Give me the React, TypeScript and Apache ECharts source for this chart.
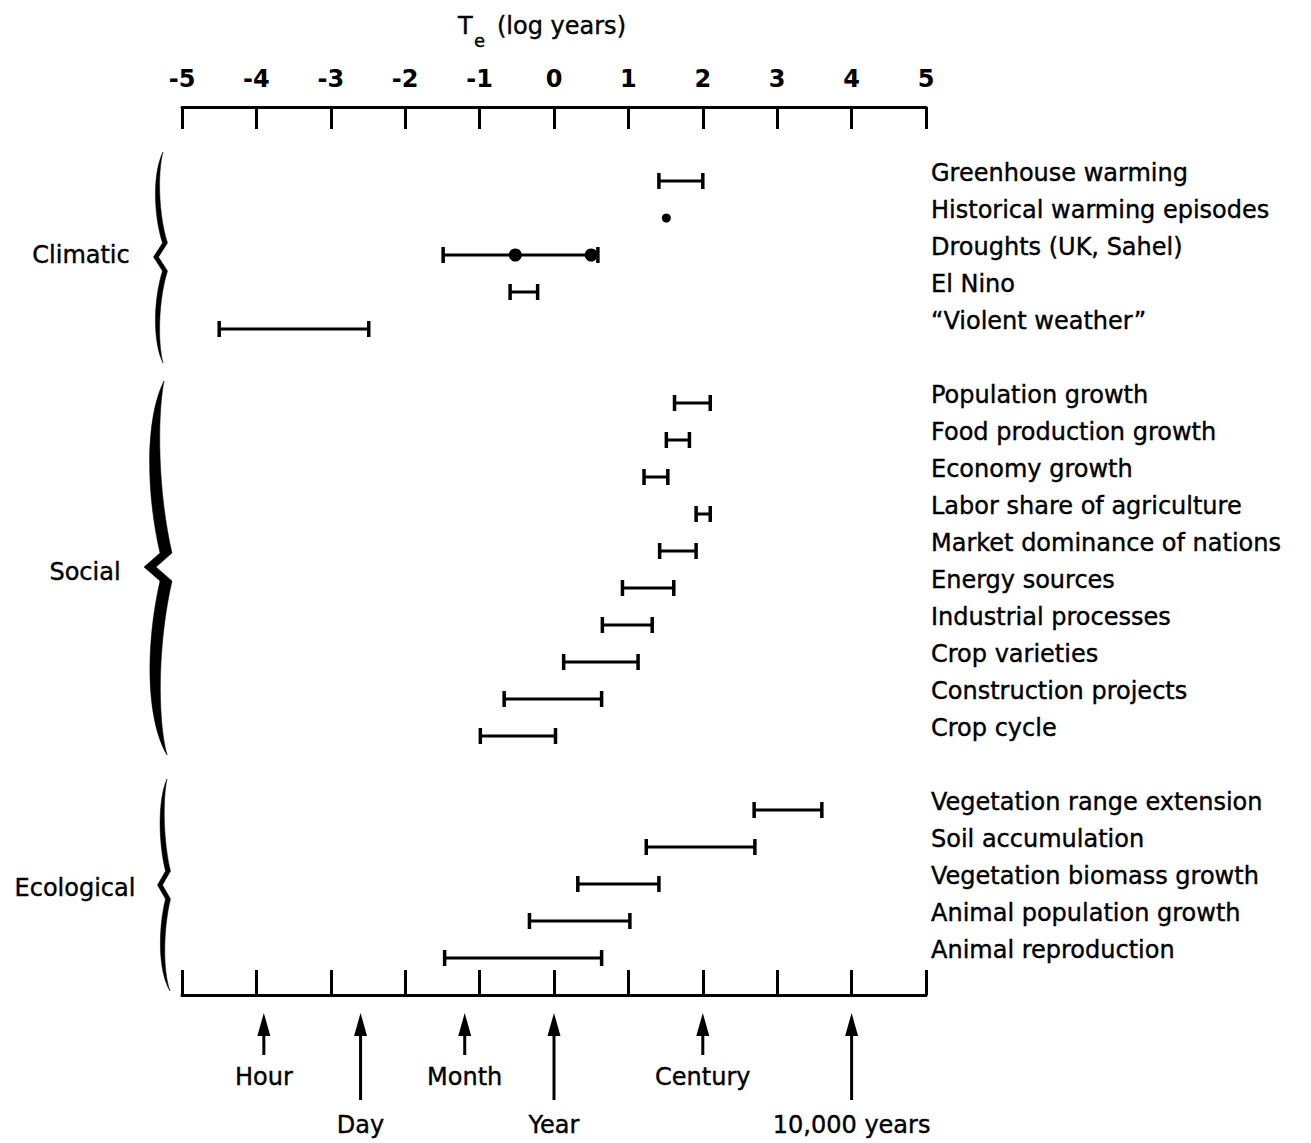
import React, { useEffect, useRef } from "react";
import * as echarts from "echarts";

const FONT = "DejaVu Sans";

// ---- data (log10 years) ----
const climaticLabels = [
  "Greenhouse warming",
  "Historical warming episodes",
  "Droughts (UK, Sahel)",
  "El Nino",
  "\u201cViolent weather\u201d",
];
const climaticLow = [1.41, null, -1.49, -0.59, -4.5];
const climaticHigh = [2.0, null, 0.59, -0.22, -2.49];
const historicalPoint = [1.51];
const droughtPoints = [-0.52, 0.5];

const socialLabels = [
  "Population growth",
  "Food production growth",
  "Economy growth",
  "Labor share of agriculture",
  "Market dominance of nations",
  "Energy sources",
  "Industrial processes",
  "Crop varieties",
  "Construction projects",
  "Crop cycle",
];
const socialLow = [1.62, 1.51, 1.21, 1.91, 1.42, 0.92, 0.65, 0.13, -0.67, -0.99];
const socialHigh = [2.1, 1.82, 1.53, 2.1, 1.91, 1.61, 1.32, 1.13, 0.64, 0.02];

const ecologicalLabels = [
  "Vegetation range extension",
  "Soil accumulation",
  "Vegetation biomass growth",
  "Animal population growth",
  "Animal reproduction",
];
const ecologicalLow = [2.69, 1.24, 0.32, -0.33, -1.47];
const ecologicalHigh = [3.6, 2.7, 1.41, 1.02, 0.64];

const groupNames = ["Climatic", "Social", "Ecological"];

const markerLabels = ["Hour", "Day", "Month", "Year", "Century", "10,000 years"];
const markerValues = [-3.9, -2.6, -1.2, 0, 2, 4];
const markerLong = [false, true, false, true, false, true];

// row indices (with one blank row between groups)
const climaticStart = 0;
const socialStart = climaticLabels.length + 1;
const ecologicalStart = socialStart + socialLabels.length + 1;

const rowLabels: string[] = [];
climaticLabels.forEach((l, i) => (rowLabels[climaticStart + i] = l));
socialLabels.forEach((l, i) => (rowLabels[socialStart + i] = l));
ecologicalLabels.forEach((l, i) => (rowLabels[ecologicalStart + i] = l));

const barData: number[][] = [];
climaticLow.forEach((lo, i) => {
  const hi = climaticHigh[i];
  if (lo !== null && hi !== null) barData.push([lo, hi, climaticStart + i]);
});
socialLow.forEach((lo, i) => barData.push([lo, socialHigh[i], socialStart + i]));
ecologicalLow.forEach((lo, i) => barData.push([lo, ecologicalHigh[i], ecologicalStart + i]));

// filled, tapered curly brace outline
function bracePath(
  xe: number, yt: number, ym: number, yb: number,
  xl: number, xr: number, xt: number, xeb: number, w: number
) {
  const up = ym - yt;
  const dn = yb - ym;
  const h = w / 2;
  return (
    `M${xe},${yt} ` +
    `C${xl - h},${yt + up * 0.2} ${xl + 1 - h},${yt + up * 0.6} ${xr - h},${ym - 14} ` +
    `L${xt - h},${ym} L${xr - h},${ym + 14} ` +
    `C${xl + 1 - h},${ym + dn * 0.4} ${xl - h},${ym + dn * 0.8} ${xeb},${yb} ` +
    `C${xl + h},${ym + dn * 0.8} ${xl + 1 + h},${ym + dn * 0.4} ${xr + h},${ym + 14} ` +
    `L${xt + h},${ym} L${xr + h},${ym - 14} ` +
    `C${xl + 1 + h},${yt + up * 0.6} ${xl + h},${yt + up * 0.2} ${xe},${yt} Z`
  );
}

export default function App() {
  const ref = useRef<HTMLDivElement>(null);

  useEffect(() => {
    if (!ref.current) return;
    echarts.graphic.registerShape(
      "braceClimatic",
      echarts.graphic.extendPath(bracePath(163, 152, 257, 363, 155, 165, 156, 163, 5), {})
    );
    echarts.graphic.registerShape(
      "braceSocial",
      echarts.graphic.extendPath(bracePath(164, 381, 567, 755, 151, 166, 150, 167, 12), {})
    );
    echarts.graphic.registerShape(
      "braceEcological",
      echarts.graphic.extendPath(bracePath(167, 779, 885, 991, 160, 168, 160, 170, 5), {})
    );

    const chart = echarts.init(ref.current, null, { renderer: "svg" });

    const axisCommon = {
      type: "value",
      min: -5,
      max: 5,
      interval: 1,
      splitLine: { show: false },
    };

    const textStyle = {
      fontSize: 24,
      fontFamily: FONT,
      fill: "#000",
      stroke: "#000",
      lineWidth: 0.4,
    };

    const option: any = {
      animation: false,
      backgroundColor: "#fff",
      grid: { left: 182, right: 385, top: 107, bottom: 148, containLabel: false },
      xAxis: [
        {
          ...axisCommon,
          position: "top",
          axisLine: { show: true, onZero: false, lineStyle: { color: "#000", width: 3 } },
          axisTick: { show: true, inside: true, length: 22, lineStyle: { color: "#000", width: 3 } },
          axisLabel: {
            show: true,
            margin: 16,
            color: "#000",
            fontSize: 24,
            fontWeight: "bold",
            fontFamily: FONT,
          },
        },
        {
          ...axisCommon,
          position: "bottom",
          axisLine: { show: true, onZero: false, lineStyle: { color: "#000", width: 3 } },
          axisTick: { show: true, inside: true, length: 25, lineStyle: { color: "#000", width: 3 } },
          axisLabel: { show: false },
        },
      ],
      yAxis: {
        type: "value",
        inverse: true,
        min: -2,
        max: 22,
        interval: 1,
        position: "right",
        axisLine: { show: false },
        axisTick: { show: false },
        splitLine: { show: false },
        axisLabel: {
          margin: 5,
          color: "#000",
          fontSize: 24,
          fontFamily: FONT,
          verticalAlign: "bottom",
          lineHeight: 16,
          textBorderColor: "#000",
          textBorderWidth: 0.4,
          formatter: (v: number) => rowLabels[v] ?? "",
        },
      },
      series: [
        {
          type: "custom",
          xAxisIndex: 0,
          clip: false,
          encode: { x: [0, 1], y: 2 },
          data: barData,
          renderItem: (params: any, api: any) => {
            const lo = api.coord([api.value(0), api.value(2)]);
            const hi = api.coord([api.value(1), api.value(2)]);
            const h = 8;
            return {
              type: "group",
              children: [
                { type: "line", shape: { x1: lo[0], y1: lo[1], x2: hi[0], y2: hi[1] }, style: { stroke: "#000", lineWidth: 3 } },
                { type: "line", shape: { x1: lo[0], y1: lo[1] - h, x2: lo[0], y2: lo[1] + h }, style: { stroke: "#000", lineWidth: 3.5 } },
                { type: "line", shape: { x1: hi[0], y1: hi[1] - h, x2: hi[0], y2: hi[1] + h }, style: { stroke: "#000", lineWidth: 3.5 } },
              ],
            };
          },
        },
        {
          type: "scatter",
          xAxisIndex: 0,
          symbol: "circle",
          symbolSize: 9,
          itemStyle: { color: "#000", opacity: 1 },
          data: historicalPoint.map((v) => [v, climaticStart + 1]),
        },
        {
          type: "scatter",
          xAxisIndex: 0,
          symbol: "circle",
          symbolSize: 13,
          itemStyle: { color: "#000", opacity: 1 },
          data: droughtPoints.map((v) => [v, climaticStart + 2]),
        },
        {
          type: "custom",
          xAxisIndex: 1,
          clip: false,
          encode: { x: 0, y: 1 },
          data: markerValues.map((v) => [v, 0]),
          renderItem: (params: any, api: any) => {
            const x = api.coord([api.value(0), 0])[0];
            const i = params.dataIndex;
            const long = markerLong[i];
            const tip = 1013;
            const end = long ? 1100 : 1055;
            const ly = long ? 1125 : 1077;
            return {
              type: "group",
              children: [
                { type: "line", shape: { x1: x, y1: tip + 15, x2: x, y2: end }, style: { stroke: "#000", lineWidth: 3 } },
                {
                  type: "polygon",
                  shape: { points: [[x, tip], [x - 6.5, tip + 23], [x + 6.5, tip + 23]] },
                  style: { fill: "#000" },
                },
                {
                  type: "text",
                  x: x,
                  y: ly,
                  style: { ...textStyle, text: markerLabels[i], align: "center", verticalAlign: "middle" },
                },
              ],
            };
          },
        },
      ],
      graphic: [
        { type: "text", x: 458, y: 26, style: { text: "T", fontSize: 24, fontFamily: FONT, fill: "#000", stroke: "#000", lineWidth: 0.4, verticalAlign: "middle" } },
        { type: "text", x: 474, y: 40, style: { text: "e", fontSize: 18, fontFamily: FONT, fill: "#000", stroke: "#000", lineWidth: 0.4, verticalAlign: "middle" } },
        { type: "text", x: 497, y: 26, style: { text: "(log years)", fontSize: 24, fontFamily: FONT, fill: "#000", stroke: "#000", lineWidth: 0.4, verticalAlign: "middle" } },
        { type: "text", x: 81, y: 255, style: { ...textStyle, text: groupNames[0], align: "center", verticalAlign: "middle" } },
        { type: "text", x: 85, y: 572, style: { ...textStyle, text: groupNames[1], align: "center", verticalAlign: "middle" } },
        { type: "text", x: 75, y: 888, style: { ...textStyle, text: groupNames[2], align: "center", verticalAlign: "middle" } },
        { type: "braceClimatic", x: 0, y: 0, style: { fill: "#000", stroke: "#000", lineWidth: 0.5 } },
        { type: "braceSocial", x: 0, y: 0, style: { fill: "#000", stroke: "#000", lineWidth: 0.5 } },
        { type: "braceEcological", x: 0, y: 0, style: { fill: "#000", stroke: "#000", lineWidth: 0.5 } },
      ],
    };

    chart.setOption(option);
    return () => chart.dispose();
  }, []);

  return (
    <div
      ref={ref}
      style={{ position: "absolute", left: 0, top: 0, width: 1311, height: 1143, background: "#fff" }}
    />
  );
}
